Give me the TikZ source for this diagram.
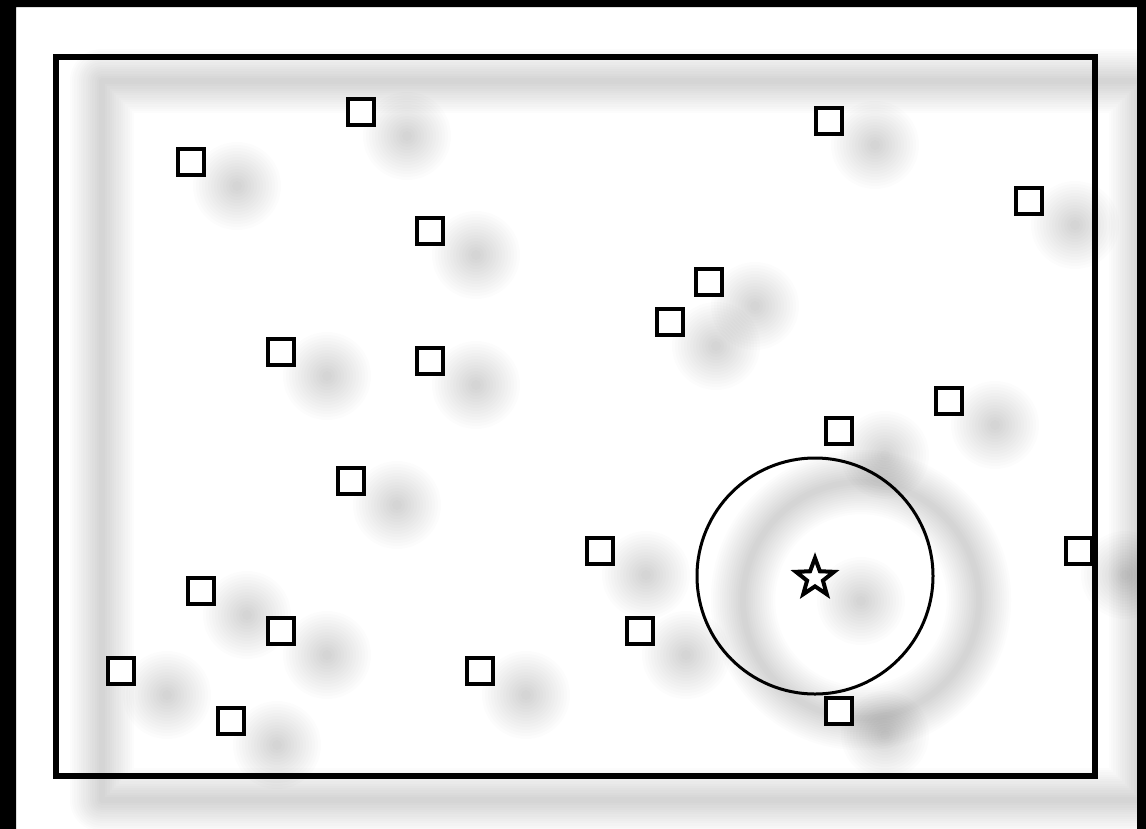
\documentclass[tikz,border=0pt]{standalone}
\usetikzlibrary{shapes.geometric}
\tikzset{
  sq/.style={draw=black, line width=4pt, minimum size=26pt, inner sep=0pt, fill=white},
  starnode/.style={star, star points=5, star point ratio=2.4, draw=black, line width=4pt, minimum size=40pt, inner sep=0pt},
  ringnode/.style={circle, draw=black, line width=3pt, minimum size=236pt, inner sep=0pt},
  framebox/.style={draw=black, line width=6pt},
  shadowline/.style={draw=black, opacity=0.011, line join=round},
  shadowblob/.style={fill=black, opacity=0.012},
}
\begin{document}
\begin{tikzpicture}[x=1pt,y=-1pt]
\useasboundingbox (0,0) rectangle (1146,828);
\fill[white] (0,0) rectangle (1146,828);
% blurred shadows (offset 46,24)
\foreach \k in {0,...,13}{
  \pgfmathsetmacro\w{6+4.5*\k}
  \pgfmathsetmacro\r{5+3*\k}
  \draw[shadowline, line width=\w pt] (102,81) rectangle (1141,800);
  \draw[shadowline, line width=\w pt] (861,600) circle[radius=118];
  \fill[shadowblob] (861,601) circle[radius=\r];
  \foreach \x/\y in {361/112,191/162,829/121,1029/201,430/231,709/282,670/322,281/352,430/361,949/401,839/431,351/481,600/551,1079/551,201/591,281/631,640/631,121/671,480/671,231/721,839/711}{
    \fill[shadowblob] (\x+46,\y+24) circle[radius=\r];
  }
}
% frame
\draw[framebox] (56,57) rectangle (1095,776);
% circle and star
\node[ringnode] (ring) at (815,576) {};
\node[starnode] (st) at (815,578) {};
% squares
\foreach \x/\y [count=\i] in {361/112,191/162,829/121,1029/201,430/231,709/282,670/322,281/352,430/361,949/401,839/431,351/481,600/551,1079/551,201/591,281/631,640/631,121/671,480/671,231/721,839/711}{
  \node[sq] (s\i) at (\x,\y) {};
}
% outer black border (left, top, right)
\fill[black, even odd rule] (0,0) rectangle (1146,840) (16,7) rectangle (1137,850);
\end{tikzpicture}
\end{document}
